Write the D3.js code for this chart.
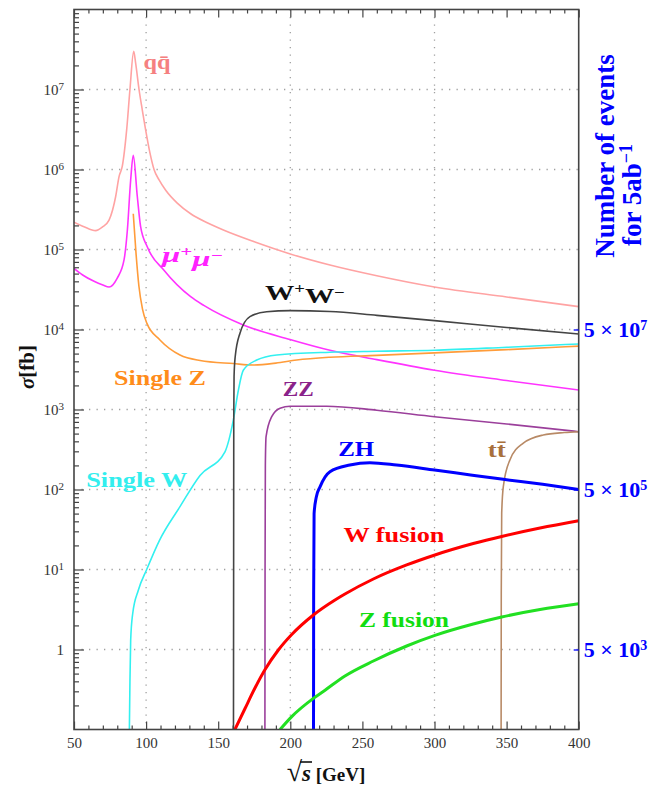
<!DOCTYPE html>
<html>
<head>
<meta charset="utf-8">
<script src="https://cdn.jsdelivr.net/npm/d3@7"></script>
<style>
body { margin: 0; background: #fff; }
text { font-family: "Liberation Serif", "Times New Roman", serif; }
</style>
</head>
<body>
<div id="chart"></div>
<script>
const W = 662, H = 791;
const margin = { top: 9.5, right: 83.3, bottom: 61.5, left: 74 },
  width = W - margin.left - margin.right,
  height = H - margin.top - margin.bottom;

// axis values
const xTicks = [50, 100, 150, 200, 250, 300, 350, 400];
const xGrid = [100, 200, 300];
const yLabelled = [1, 1e1, 1e2, 1e3, 1e4, 1e5, 1e6, 1e7];
const lumi = 5000; // fb^-1, i.e. 5 ab^-1
const eventTicks = [5e3, 5e5, 5e7];

// cross sections [sqrt(s) GeV, sigma fb]
const qq = [[50, 2.2e5], [56.9, 1.93e5], [65, 1.72e5], [69.6, 1.9e5], [74.3, 2.33e5], [78.9, 4.6e5],
  [81.2, 8.1e5], [83.5, 1.1e6], [86.5, 3.1e6], [88.8, 1e7], [91.4, 3.0e7], [92.8, 2.1e7], [95.1, 1e7],
  [97.4, 5.5e6], [99.7, 3.1e6], [102.7, 1.6e6], [105.5, 1e6], [109, 7.4e5], [113.6, 5.5e5], [121.6, 3.8e5],
  [130.9, 2.8e5], [142.4, 2.16e5], [154, 1.74e5], [175, 1.25e5], [200, 8.8e4], [227.5, 6.4e4], [260, 4.7e4],
  [300, 3.4e4], [350, 2.55e4], [400, 1.93e4]];
const mumu = [[50, 5.8e4], [56, 4.8e4], [63.9, 4.0e4], [70, 3.6e4], [74.3, 3.4e4], [80, 4.4e4], [84.7, 7.4e4],
  [87, 1.74e5], [89.3, 7.4e5], [91.1, 1.5e6], [93.9, 4.6e5], [96.2, 1.93e5], [100.8, 1.08e5],
  [112.4, 5.5e4], [130.9, 2.57e4], [140, 2.0e4], [167.4, 1.14e4], [199.8, 7.5e3],
  [227.5, 5.5e3], [260, 4.2e3], [300, 3.1e3], [350, 2.3e3], [400, 1.75e3]];
const singleZ = [[91.1, 2.8e5], [93, 9e4], [95, 3.5e4], [97.5, 1.8e4], [100.5, 1.2e4], [109.6, 7.4e3],
  [123.5, 4.8e3], [137.4, 4.1e3], [160.5, 3.75e3], [174.3, 3.6e3], [190, 3.8e3], [204.4, 4.15e3],
  [227.5, 4.5e3], [260, 4.75e3], [300, 5.1e3], [350, 5.6e3], [400, 6.2e3]];
const singleW = [[88.4, 0.1], [88.8, 0.4], [89.3, 1.3], [90.7, 2.8], [94.6, 5.5], [100.4, 10], [109.2, 23],
  [123.5, 61], [137.4, 150], [154.7, 296], [157.5, 420], [160.5, 740], [164, 1750], [167.4, 3.1e3],
  [176.7, 4.15e3], [190.6, 4.8e3], [227.5, 5.2e3], [260, 5.35e3], [300, 5.5e3], [350, 6.0e3], [400, 6.6e3]];
const ww = [[160.6, 0.1], [160.7, 10], [160.8, 800], [161.0, 2.6e3], [161.8, 4.6e3], [165.1, 9e3], [172, 1.45e4],
  [183.6, 1.67e4], [199.8, 1.72e4], [227.5, 1.68e4], [260, 1.5e4], [300, 1.29e4], [350, 1.06e4], [400, 8.8e3]];
const zz = [[182.4, 0.1], [182.5, 10], [182.7, 200], [183.2, 457], [187.1, 813], [192.9, 1.04e3], [199.8, 1.1e3],
  [225.2, 1.1e3], [260, 980], [300, 813], [350, 660], [400, 528]];
const zh = [[216.1, 0.1], [216.2, 5], [216.5, 50], [218, 80], [220.6, 108], [227.5, 167], [241.3, 202],
  [255.2, 216], [273.7, 202], [300, 175], [325, 152], [347.7, 134], [375, 116], [400, 100]];
const tt = [[346.2, 0.1], [346.3, 5], [346.6, 50], [347.7, 108], [352.3, 234], [361.6, 380], [375.4, 480],
  [390, 515], [400, 528]];
const wFusion = [[161.6, 0.1], [168.6, 0.183], [175.5, 0.33], [182.5, 0.562], [191.7, 0.986], [201, 1.54],
  [216, 2.7], [231, 4.16], [237.9, 4.94], [257.6, 7.61], [280.7, 11.4], [300.3, 15.2], [326.9, 21.1],
  [346.6, 25.9], [373.2, 33.0], [400, 40.7]];
const zFusion = [[192.9, 0.1], [201, 0.145], [216, 0.245], [224.1, 0.31], [237.9, 0.467], [257.6, 0.718],
  [280.7, 1.106], [300.3, 1.5], [326.9, 2.08], [346.6, 2.55], [373.2, 3.16], [400, 3.72]];

const series = [
  { name: "qq", data: qq, color: "#ffa3a3", w: 1.6 },
  { name: "mumu", data: mumu, color: "#ff33ff", w: 1.6 },
  { name: "singleZ", data: singleZ, color: "#ff9c3a", w: 1.6 },
  { name: "singleW", data: singleW, color: "#33f0f0", w: 1.6 },
  { name: "ww", data: ww, color: "#444444", w: 1.6 },
  { name: "zz", data: zz, color: "#9b3f9b", w: 1.6 },
  { name: "tt", data: tt, color: "#b88a66", w: 1.6 },
  { name: "zh", data: zh, color: "#0000ff", w: 3 },
  { name: "wFusion", data: wFusion, color: "#ff0000", w: 3 },
  { name: "zFusion", data: zFusion, color: "#22e022", w: 3 }
];

// in-plot labels, anchored in data coordinates
const labels = [
  { parts: [["q"], ["q\u0304"]], x: 107.6, y: 2.2e7, color: "#f58080", len: 27 },
  { parts: [["\u03bc", "", 1], ["+", "sup", 1], ["\u03bc", "", 1], ["\u2212", "sup", 1]], x: 132.2, y: 8.5e4, color: "#ff22ff", len: 61 },
  { parts: [["W"], ["+", "sup"], ["W"], ["\u2212", "sup"]], x: 210.2, y: 2.9e4, color: "#111", len: 80 },
  { parts: [["Single Z"]], x: 109.6, y: 2.5e3, color: "#ff8c1a", len: 92 },
  { parts: [["ZZ"]], x: 205.5, y: 1.8e3, color: "#8a228a", len: 31 },
  { parts: [["ZH"]], x: 245.7, y: 327, color: "#0000ff", len: 36 },
  { parts: [["t"], ["t\u0304"]], x: 343.1, y: 318, color: "#a8703c", len: 18 },
  { parts: [["Single W"]], x: 93.5, y: 132, color: "#33eeee", len: 101 },
  { parts: [["W fusion"]], x: 271.9, y: 27, color: "#ff0000", len: 101 },
  { parts: [["Z fusion"]], x: 278.8, y: 2.34, color: "#11dd11", len: 90 }
];

const svg = d3.select("#chart").append("svg")
  .attr("width", W)
  .attr("height", H);

const g = svg.append("g")
  .attr("transform", `translate(${margin.left},${margin.top})`);

const x = d3.scaleLinear().domain([50, 400]).range([0, width]);
const y = d3.scaleLog().domain([0.1, 1e8]).range([height, 0]);
const yEvents = d3.scaleLog().domain([0.1 * lumi, 1e8 * lumi]).range([height, 0]);

// grid
g.append("g").selectAll("line").data(yLabelled).join("line")
  .attr("x1", 0).attr("x2", width)
  .attr("y1", d => y(d)).attr("y2", d => y(d))
  .attr("stroke", "#a0a0a0").attr("stroke-width", 1.3)
  .attr("stroke-dasharray", "1.3,6.2");
g.append("g").selectAll("line").data(xGrid).join("line")
  .attr("x1", d => x(d)).attr("x2", d => x(d))
  .attr("y1", 0).attr("y2", height)
  .attr("stroke", "#a0a0a0").attr("stroke-width", 1.3)
  .attr("stroke-dasharray", "1.3,6.2");

// curves
g.append("clipPath").attr("id", "clip")
  .append("rect").attr("width", width).attr("height", height);

const line = d3.line()
  .x(d => x(d[0]))
  .y(d => y(d[1]))
  .curve(d3.curveMonotoneX);

g.append("g").attr("clip-path", "url(#clip)")
  .selectAll("path").data(series).join("path")
  .attr("fill", "none")
  .attr("stroke", d => d.color)
  .attr("stroke-width", d => d.w)
  .attr("stroke-linejoin", "round")
  .attr("d", d => line(d.data));

// minor tick values
const xMinor = d3.range(50, 401, 10).filter(v => v % 50 !== 0);
const yMinor = [];
for (let e = -1; e < 8; e++) for (let k = 2; k <= 9; k++) yMinor.push(k * Math.pow(10, e));

const axisColor = "#444";
function styleAxis(sel) {
  sel.select(".domain").remove();
  sel.selectAll("line").attr("stroke", axisColor).attr("stroke-width", 1.2);
  sel.selectAll("text").attr("fill", "#333").style("font-size", "15px");
}

// bottom axis
g.append("g").attr("transform", `translate(0,${height})`)
  .call(d3.axisBottom(x).tickValues(xTicks).tickSize(-8).tickPadding(8).tickFormat(d3.format("d")))
  .call(styleAxis);
g.append("g").attr("transform", `translate(0,${height})`)
  .call(d3.axisBottom(x).tickValues(xMinor).tickSize(-4).tickFormat(""))
  .call(styleAxis);
// top axis
g.append("g")
  .call(d3.axisTop(x).tickValues(xTicks).tickSize(-8).tickFormat(""))
  .call(styleAxis);
g.append("g")
  .call(d3.axisTop(x).tickValues(xMinor).tickSize(-4).tickFormat(""))
  .call(styleAxis);

// left axis
const supDigits = v => Math.round(Math.log10(v));
const yAxisG = g.append("g")
  .call(d3.axisLeft(y).tickValues(yLabelled).tickSize(-10).tickPadding(10).tickFormat(""))
  .call(styleAxis);
yAxisG.selectAll(".tick text")
  .attr("dy", "0.35em")
  .each(function(d) {
    const t = d3.select(this);
    if (d === 1) { t.append("tspan").text("1"); return; }
    t.append("tspan").text("10");
    t.append("tspan").attr("dy", "-0.45em").style("font-size", "11px").text(supDigits(d));
  });
g.append("g")
  .call(d3.axisLeft(y).tickValues(yMinor).tickSize(-5).tickFormat(""))
  .call(styleAxis);

// frame
g.append("rect")
  .attr("width", width).attr("height", height)
  .attr("fill", "none").attr("stroke", axisColor).attr("stroke-width", 1.6);

// right axis: number of events
const rightG = g.append("g").attr("transform", `translate(${width},0)`)
  .call(d3.axisLeft(yEvents).tickValues(eventTicks).tickSize(5).tickFormat(""));
rightG.select(".domain").remove();
rightG.selectAll(".tick text").remove();
rightG.selectAll("line").attr("stroke", "#0000ff").attr("stroke-width", 1.3).attr("x2", -5);
rightG.selectAll(".tick").append("text")
  .attr("x", 5).attr("dy", "0.33em")
  .attr("text-anchor", "start")
  .attr("fill", "#0000ff")
  .style("font-size", "22px").style("font-weight", "bold")
  .each(function(d) {
    const t = d3.select(this);
    t.append("tspan").text("5 \u00d7 10");
    t.append("tspan").attr("dy", "-0.5em").style("font-size", "14px").text(supDigits(d / 5));
  });

// series labels
labels.forEach(l => {
  const t = g.append("text")
    .attr("x", x(l.x)).attr("y", y(l.y))
    .attr("dy", "0.33em")
    .attr("text-anchor", "middle")
    .attr("fill", l.color)
    .style("font-size", "22px").style("font-weight", "bold")
    .attr("textLength", l.len).attr("lengthAdjust", "spacingAndGlyphs");
  let shifted = false;
  l.parts.forEach(p => {
    const ts = t.append("tspan").text(p[0]);
    if (p[2]) ts.style("font-style", "italic");
    if (p[1] === "sup") {
      ts.attr("dy", "-0.45em").style("font-size", "14px");
      shifted = true;
    } else if (shifted) {
      ts.attr("dy", "0.45em");
      shifted = false;
    }
  });
});

// axis titles
const yTitle = svg.append("text")
  .attr("transform", `translate(27,367) rotate(-90)`)
  .attr("text-anchor", "middle").attr("dy", "0.35em")
  .attr("fill", "#111")
  .style("font-size", "21px").style("font-weight", "bold");
yTitle.append("tspan").style("font-style", "italic").text("\u03c3");
yTitle.append("tspan").text("[fb]");

const xTitle = svg.append("text")
  .attr("x", 326).attr("y", 781)
  .attr("text-anchor", "middle")
  .attr("fill", "#111")
  .style("font-weight", "bold");
xTitle.append("tspan").style("font-size", "28px").style("font-weight", "normal").text("\u221a");
const sSpan = xTitle.append("tspan").style("font-size", "23px").style("font-style", "italic").text("s");
xTitle.append("tspan").style("font-size", "19px").text(" [GeV]");
const sBox = sSpan.node().getBBox();
svg.append("line")
  .attr("x1", sBox.x - 1).attr("x2", sBox.x + sBox.width + 1)
  .attr("y1", sBox.y + 1).attr("y2", sBox.y + 1)
  .attr("stroke", "#111").attr("stroke-width", 1.6);

const rTitle = svg.append("g")
  .attr("fill", "#0000ff")
  .style("font-weight", "bold");
rTitle.append("text")
  .attr("transform", "translate(605,156) rotate(-90)")
  .attr("text-anchor", "middle").attr("dy", "0.35em")
  .style("font-size", "27px")
  .text("Number of events");
const r2 = rTitle.append("text")
  .attr("transform", "translate(632,195) rotate(-90)")
  .attr("text-anchor", "middle").attr("dy", "0.35em")
  .style("font-size", "27px");
r2.append("tspan").text("for 5ab");
r2.append("tspan").attr("dy", "-0.5em").style("font-size", "18px").text("\u22121");
</script>
</body>
</html>
